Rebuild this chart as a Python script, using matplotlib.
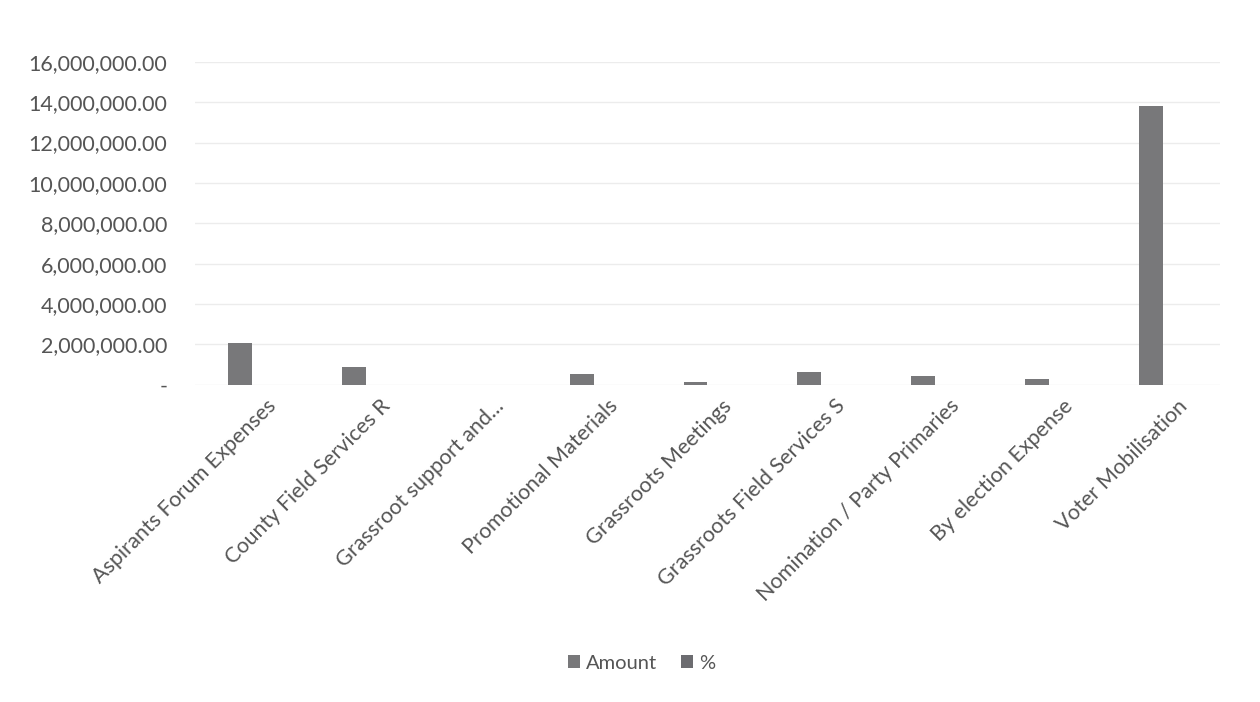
import matplotlib
matplotlib.use('Agg')
import matplotlib.pyplot as plt
import matplotlib.ticker as mticker
import numpy as np

categories = ['Aspirants Forum Expenses', 'County Field Services R', 'Grassroot support and...',
              'Promotional Materials', 'Grassroots Meetings', 'Grassroots Field Services S',
              'Nomination / Party Primaries', 'By election Expense', 'Voter Mobilisation']
amount = [2060000, 860000, 0, 530000, 110000, 630000, 410000, 280000, 13830000]
percent = [10.4, 4.3, 0.0, 2.7, 0.6, 3.2, 2.1, 1.4, 69.8]
y_ticks = [0, 2000000, 4000000, 6000000, 8000000, 10000000, 12000000, 14000000, 16000000]

plt.rcParams['font.family'] = ['Lato', 'DejaVu Sans']
text_color = '#555555'

fig = plt.figure(figsize=(12.6, 7.02), dpi=100)
ax = fig.add_axes([0.155, 0.452, 0.813, 0.46])

x = np.arange(len(categories))
w = 0.21
ax.bar(x - w / 2, amount, width=w, color='#78787a', label='Amount')
ax.bar(x + w / 2, percent, width=w, color='#6c6c70', label='%')

ax.set_xlim(-0.5, len(categories) - 0.5)
ax.set_ylim(0, 16000000)
ax.set_yticks(y_ticks)
ax.yaxis.set_major_formatter(mticker.FuncFormatter(
    lambda v, p: '-' if v == 0 else f'{v:,.2f}'))
ax.grid(axis='y', color='#ececec', linewidth=1)
ax.set_axisbelow(True)
for s in ax.spines.values():
    s.set_visible(False)
ax.tick_params(axis='both', length=0, colors=text_color, labelsize=15.5)
ax.tick_params(axis='y', pad=20)

ax.set_xticks(x)
ax.set_xticklabels(categories, rotation=45, ha='right', rotation_mode='anchor', fontsize=15.5)
for lbl in ax.get_xticklabels():
    lbl.set_color(text_color)
ax.tick_params(axis='x', pad=8)
# nudge labels a bit right, like the reference
import matplotlib.transforms as mtrans
off = mtrans.ScaledTranslation(0.14, 0, fig.dpi_scale_trans)
for lbl in ax.get_xticklabels():
    lbl.set_transform(lbl.get_transform() + off)

leg = fig.legend(loc='center', bbox_to_anchor=(0.509, 0.055), ncol=2, frameon=False,
                 fontsize=14.5, handlelength=0.6, handleheight=0.6, handletextpad=0.3,
                 columnspacing=1.2)
for t in leg.get_texts():
    t.set_color(text_color)

fig.savefig('out.png', dpi=100, facecolor='white')
